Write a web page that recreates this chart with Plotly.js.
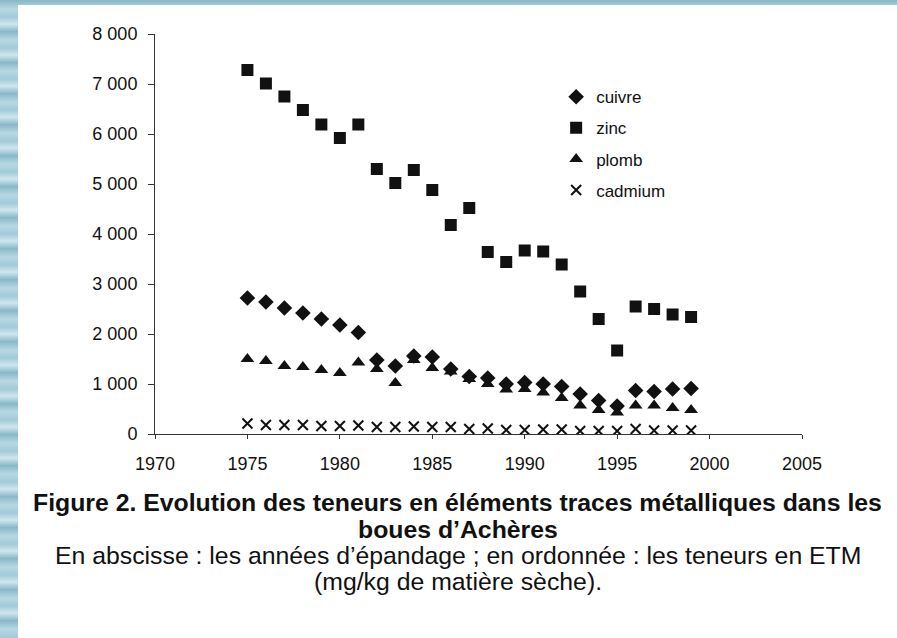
<!DOCTYPE html>
<html>
<head>
<meta charset="utf-8">
<script src="https://cdn.plot.ly/plotly-3.0.1.min.js"></script>
<style>
  html, body { margin: 0; padding: 0; width: 897px; height: 638px; overflow: hidden; }
  body {
    background: repeating-linear-gradient(180deg, #86b6c6 0px, #b7d8e3 9px, #a2cad8 17px, #cfe6ee 24px, #8fbdcc 31px);
  }
  #chart { position: absolute; left: 18px; top: 5px; width: 879px; height: 633px; background: #fff; }
</style>
</head>
<body>
<div id="chart"></div>
<script>
const years = [1975,1976,1977,1978,1979,1980,1981,1982,1983,1984,1985,1986,1987,1988,1989,1990,1991,1992,1993,1994,1995,1996,1997,1998,1999];
const cuivre = [2720,2640,2520,2420,2300,2180,2030,1480,1360,1560,1540,1300,1150,1120,1000,1030,1000,950,800,670,560,870,850,900,910];
const zinc = [7280,7010,6750,6480,6190,5920,6190,5300,5020,5280,4880,4180,4520,3640,3440,3670,3650,3390,2850,2300,1670,2550,2500,2390,2340];
const plomb = [1500,1460,1360,1340,1280,1220,1430,1300,1020,1480,1320,1250,1100,1000,890,900,830,720,570,480,430,570,570,520,480];
const cadmium = [210,180,180,180,160,160,170,140,140,150,140,140,100,110,80,80,90,90,60,60,60,100,70,70,70];
const seriesNames = ['cuivre','zinc','plomb','cadmium'];
const captionLines = [
  'Figure 2. Evolution des teneurs en éléments traces métalliques dans les',
  'boues d\u2019Achères',
  'En abscisse : les années d\u2019épandage ; en ordonnée : les teneurs en ETM',
  '(mg/kg de matière sèche).'
];

const ink = '#111';
const FONT = 'Arial, "Liberation Sans", sans-serif';

const traces = [
  {x: years, y: cuivre, name: seriesNames[0], legendgroup: 'a', mode: 'markers', type: 'scatter',
   marker: {symbol: 'diamond', size: 12, color: ink}},
  {x: years, y: zinc, name: seriesNames[1], legendgroup: 'b', mode: 'markers', type: 'scatter',
   marker: {symbol: 'square', size: 12, color: ink}},
  {x: years, y: plomb, name: seriesNames[2], legendgroup: 'c', mode: 'markers', type: 'scatter',
   marker: {symbol: 'triangle-up', size: 12, color: ink}},
  {x: years, y: cadmium, name: seriesNames[3], legendgroup: 'd', mode: 'markers', type: 'scatter',
   marker: {symbol: 'x-thin', size: 10, color: ink, line: {color: ink, width: 2}}}
];

const capY = [-0.1725, -0.2375, -0.3025, -0.3675];
const annotations = captionLines.map((t, i) => ({
  text: i < 2 ? '<b>' + t + '</b>' : t,
  xref: 'paper', yref: 'paper', x: 0.468, y: capY[i],
  xanchor: 'center', yanchor: 'middle', showarrow: false,
  font: {family: FONT, size: 24.8, color: ink}
}));

const layout = {
  width: 879, height: 633,
  margin: {l: 137, r: 95, t: 29, b: 204},
  paper_bgcolor: '#ffffff', plot_bgcolor: '#ffffff',
  separators: ', ',
  font: {family: FONT, color: ink, size: 18},
  showlegend: true,
  legend: {x: 0.62, y: 0.887, xanchor: 'left', yanchor: 'top',
           traceorder: 'grouped', tracegroupgap: 6, itemwidth: 30,
           font: {family: FONT, size: 17, color: ink}, bgcolor: 'rgba(0,0,0,0)'},
  xaxis: {range: [1970, 2005], tick0: 1970, dtick: 5, showline: true, linecolor: '#333', linewidth: 1,
          ticks: 'outside', ticklen: 4, tickcolor: '#333', showgrid: false, zeroline: false,
          ticklabelstandoff: 9,
          tickfont: {family: FONT, size: 18, color: ink}},
  yaxis: {range: [0, 8000], dtick: 1000, showline: true, linecolor: '#333', linewidth: 1,
          ticks: 'outside', ticklen: 6, tickcolor: '#333', showgrid: false, zeroline: false,
          ticklabelstandoff: 7,
          separatethousands: true, tickfont: {family: FONT, size: 18, color: ink}},
  annotations: annotations
};

Plotly.newPlot('chart', traces, layout, {displayModeBar: false, staticPlot: true});
</script>
</body>
</html>
